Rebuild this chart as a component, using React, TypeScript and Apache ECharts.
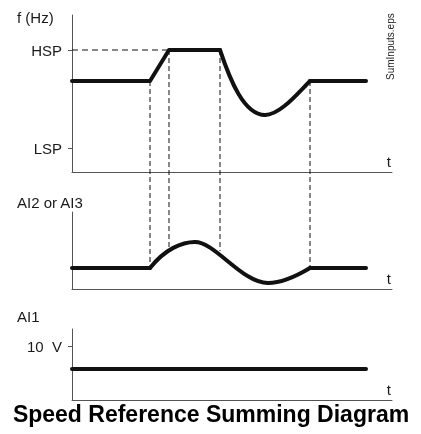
import React, { useEffect, useRef } from "react";
import * as echarts from "echarts";

// time axis span (arbitrary units)
const timeMax = 320;

// Panel 1: output frequency f (Hz)
const freqFlatBefore = [[0, 91], [78, 91], [97, 122], [148, 122]];
// cubic segments: [x0, y0, cx1, cy1, cx2, cy2, x1, y1]
const freqCurveSegments = [
  [148, 122, 158, 92, 172, 57, 193, 57],
  [193, 57, 208, 57, 226, 79, 238, 91],
];
const freqFlatAfter = [[238, 91], [294, 91]];
const hspLine = [[0, 122], [97, 122]];
const freqTickValues = [122, 24];
const freqTickLabels = ["HSP", "LSP"];

// Panel 2: AI2 or AI3
const ai2FlatBefore = [[0, 21], [78, 21]];
const ai2CurveSegments = [
  [78, 21, 93, 40, 110, 47, 123, 47],
  [123, 47, 143, 47, 170, 6, 196, 6],
  [196, 6, 212, 6, 228, 15, 238, 21],
];
const ai2FlatAfter = [[238, 21], [294, 21]];

// Panel 3: AI1
const ai1Line = [[0, 31], [294, 31]];
const ai1TickValues = [54];
const ai1TickLabels = ["10  V"];

// Dashed guides linking panel 1 and panel 2
const guideTimes = [78, 97, 148, 238];
const guideFreq = [91, 122, 122, 91];
const guideAi2 = [21, 40, 38, 21];

const FONT = "'Liberation Sans', Arial, sans-serif";
const TEXT = "#1a1a1a";
const AXIS = "#555";

function makeY(gridIndex: number, max: number, ticks: number[], labels: string[]) {
  return {
    type: "value",
    gridIndex,
    min: 0,
    max,
    axisLine: { show: true, lineStyle: { color: AXIS, width: 1 } },
    axisTick: { show: ticks.length > 0, length: 4, customValues: ticks, lineStyle: { color: AXIS } },
    axisLabel: {
      show: ticks.length > 0,
      customValues: ticks,
      margin: 10,
      color: TEXT,
      fontFamily: FONT,
      fontSize: 15,
      formatter: (v: number) => {
        const i = ticks.indexOf(v);
        return i >= 0 ? labels[i] : "";
      },
    },
    splitLine: { show: false },
  };
}

function makeX(gridIndex: number) {
  return {
    type: "value",
    gridIndex,
    min: 0,
    max: timeMax,
    axisLine: { show: true, onZero: false, lineStyle: { color: AXIS, width: 1 } },
    axisTick: { show: false },
    axisLabel: { show: false },
    splitLine: { show: false },
    name: "t",
    nameLocation: "end",
    nameGap: -1,
    nameTextStyle: {
      color: TEXT,
      fontFamily: FONT,
      fontSize: 15,
      align: "right",
      verticalAlign: "bottom",
      padding: [0, 0, 3, 0],
    },
  };
}

function thick(data: number[][], xi: number) {
  return {
    type: "line",
    xAxisIndex: xi,
    yAxisIndex: xi,
    data,
    symbol: "none",
    lineStyle: { color: "#111", width: 4, cap: "round", join: "round" },
    z: 3,
  };
}

function curve(segments: number[][], xi: number) {
  return {
    type: "custom",
    xAxisIndex: xi,
    yAxisIndex: xi,
    data: segments,
    encode: { x: [0, 2, 4, 6], y: [1, 3, 5, 7] },
    z: 3,
    renderItem: (_params: any, api: any) => {
      const p = (i: number) => api.coord([api.value(i), api.value(i + 1)]);
      const a = p(0), c1 = p(2), c2 = p(4), b = p(6);
      return {
        type: "bezierCurve",
        shape: { x1: a[0], y1: a[1], cpx1: c1[0], cpy1: c1[1], cpx2: c2[0], cpy2: c2[1], x2: b[0], y2: b[1] },
        style: { stroke: "#111", lineWidth: 4, fill: "none", lineCap: "round" },
      };
    },
  };
}

export default function App() {
  const ref = useRef<HTMLDivElement>(null);

  useEffect(() => {
    document.body.style.margin = "0";
    const chart = echarts.init(ref.current!, undefined, { renderer: "svg" });
    const labelStyle = { fill: TEXT, font: `15px ${FONT}` };
    chart.setOption({
      animation: false,
      grid: [
        { left: 72, top: 15, width: 320, height: 157 },
        { left: 72, top: 212, width: 320, height: 77 },
        { left: 72, top: 329, width: 320, height: 71 },
      ],
      xAxis: [makeX(0), makeX(1), makeX(2)],
      yAxis: [
        makeY(0, 157, freqTickValues, freqTickLabels),
        makeY(1, 77, [], []),
        makeY(2, 71, ai1TickValues, ai1TickLabels),
      ],
      series: [
        thick(freqFlatBefore, 0),
        curve(freqCurveSegments, 0),
        thick(freqFlatAfter, 0),
        {
          type: "line",
          xAxisIndex: 0,
          yAxisIndex: 0,
          data: hspLine,
          symbol: "none",
          lineStyle: { color: "#111", width: 1, type: [6, 4] },
          z: 2,
        },
        thick(ai2FlatBefore, 1),
        curve(ai2CurveSegments, 1),
        thick(ai2FlatAfter, 1),
        thick(ai1Line, 2),
      ],
    });

    const guides = guideTimes.map((t, i) => {
      const a = chart.convertToPixel({ gridIndex: 0 }, [t, guideFreq[i]]) as number[];
      const b = chart.convertToPixel({ gridIndex: 1 }, [t, guideAi2[i]]) as number[];
      return {
        type: "line",
        shape: { x1: a[0], y1: a[1], x2: b[0], y2: b[1] },
        style: { stroke: "#111", lineWidth: 1, lineDash: [5, 3] },
        z: 1,
      };
    });

    chart.setOption({
      graphic: [
        ...guides,
        { type: "text", x: 17, y: 17, style: { ...labelStyle, text: "f (Hz)", textVerticalAlign: "middle" } },
        { type: "text", x: 17, y: 202, style: { ...labelStyle, text: "AI2 or AI3", textVerticalAlign: "middle" } },
        { type: "text", x: 17, y: 316, style: { ...labelStyle, text: "AI1", textVerticalAlign: "middle" } },
        {
          type: "text",
          x: 390,
          y: 80,
          rotation: Math.PI / 2,
          style: { fill: TEXT, font: `10px ${FONT}`, text: "SumInputs.eps", textAlign: "left", textVerticalAlign: "middle" },
        },
        {
          type: "text",
          x: 211,
          y: 414,
          style: {
            fill: "#000",
            font: `bold 23px ${FONT}`,
            text: "Speed Reference Summing Diagram",
            textAlign: "center",
            textVerticalAlign: "middle",
          },
        },
      ],
    });

    return () => chart.dispose();
  }, []);

  return <div ref={ref} style={{ width: 421, height: 434, position: "fixed", left: 0, top: 0 }} />;
}
